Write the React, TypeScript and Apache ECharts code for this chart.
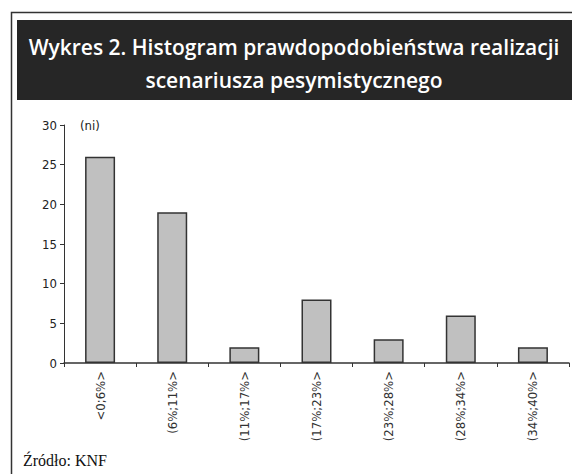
import React, { useEffect, useRef } from "react";
import * as echarts from "echarts";

const categories = ["<0;6%>", "(6%;11%>", "(11%;17%>", "(17%;23%>", "(23%;28%>", "(28%;34%>", "(34%;40%>"];
const counts = [26, 19, 2, 8, 3, 6, 2];
const yTicks = [0, 5, 10, 15, 20, 25, 30];
const titleLines = ["Wykres 2. Histogram prawdopodobieństwa realizacji", "scenariusza pesymistycznego"];
const unitLabel = "(ni)";
const sourceText = "Źródło: KNF";

const axisFont = "DejaVu Sans Condensed, Liberation Sans Narrow, sans-serif";

export default function App() {
  const ref = useRef<HTMLDivElement>(null);
  useEffect(() => {
    if (!ref.current) return;
    const chart = echarts.init(ref.current, null, { renderer: "svg" });
    chart.setOption({
      animation: false,
      backgroundColor: "#ffffff",
      grid: { left: 64, right: 3, top: 125, bottom: 111, containLabel: false },
      xAxis: {
        type: "category",
        data: categories,
        boundaryGap: true,
        axisLine: { lineStyle: { color: "#333", width: 1.5 } },
        axisTick: { show: true, length: 4, lineStyle: { color: "#333", width: 1 } },
        axisLabel: {
          rotate: 90,
          interval: 0,
          margin: 8,
          color: "#333",
          fontSize: 13,
          fontFamily: axisFont,
        },
      },
      yAxis: {
        type: "value",
        min: yTicks[0],
        max: yTicks[yTicks.length - 1],
        interval: 5,
        splitLine: { show: false },
        axisLine: { show: true, lineStyle: { color: "#333", width: 1 } },
        axisTick: { show: true, length: 4, lineStyle: { color: "#333" } },
        axisLabel: {
          color: "#222",
          fontSize: 13,
          margin: 7,
          fontFamily: axisFont,
        },
      },
      series: [
        {
          type: "bar",
          data: counts,
          barWidth: 30,
          itemStyle: { color: "#c0c0c0", borderColor: "#333", borderWidth: 1.5 },
        },
      ],
      graphic: [
        {
          type: "polyline",
          shape: { points: [[11.5, 474], [11.5, 12.5], [572, 12.5]] },
          style: { stroke: "#333", lineWidth: 1.5, fill: "none" },
          silent: true,
        },
        {
          type: "rect",
          shape: { x: 17, y: 20, width: 560, height: 80 },
          style: { fill: "#262626" },
          silent: true,
        },
        {
          type: "text",
          x: 294,
          y: 47,
          style: {
            text: titleLines[0],
            fill: "#ffffff",
            fontSize: 21,
            fontWeight: 600,
            fontFamily: "Open Sans, sans-serif",
            align: "center",
            verticalAlign: "middle",
          },
          silent: true,
        },
        {
          type: "text",
          x: 294,
          y: 80,
          style: {
            text: titleLines[1],
            fill: "#ffffff",
            fontSize: 21,
            fontWeight: 600,
            fontFamily: "Open Sans, sans-serif",
            align: "center",
            verticalAlign: "middle",
          },
          silent: true,
        },
        {
          type: "text",
          x: 80,
          y: 125,
          style: {
            text: unitLabel,
            fill: "#222",
            fontSize: 13,
            fontFamily: axisFont,
            align: "left",
            verticalAlign: "middle",
          },
          silent: true,
        },
        {
          type: "text",
          x: 23,
          y: 460,
          style: {
            text: sourceText,
            fill: "#111",
            fontSize: 16,
            fontFamily: "Liberation Serif, serif",
            align: "left",
            verticalAlign: "middle",
          },
          silent: true,
        },
      ],
    });
    return () => chart.dispose();
  }, []);
  return <div ref={ref} style={{ width: 572, height: 474, position: "absolute", left: 0, top: 0 }} />;
}
